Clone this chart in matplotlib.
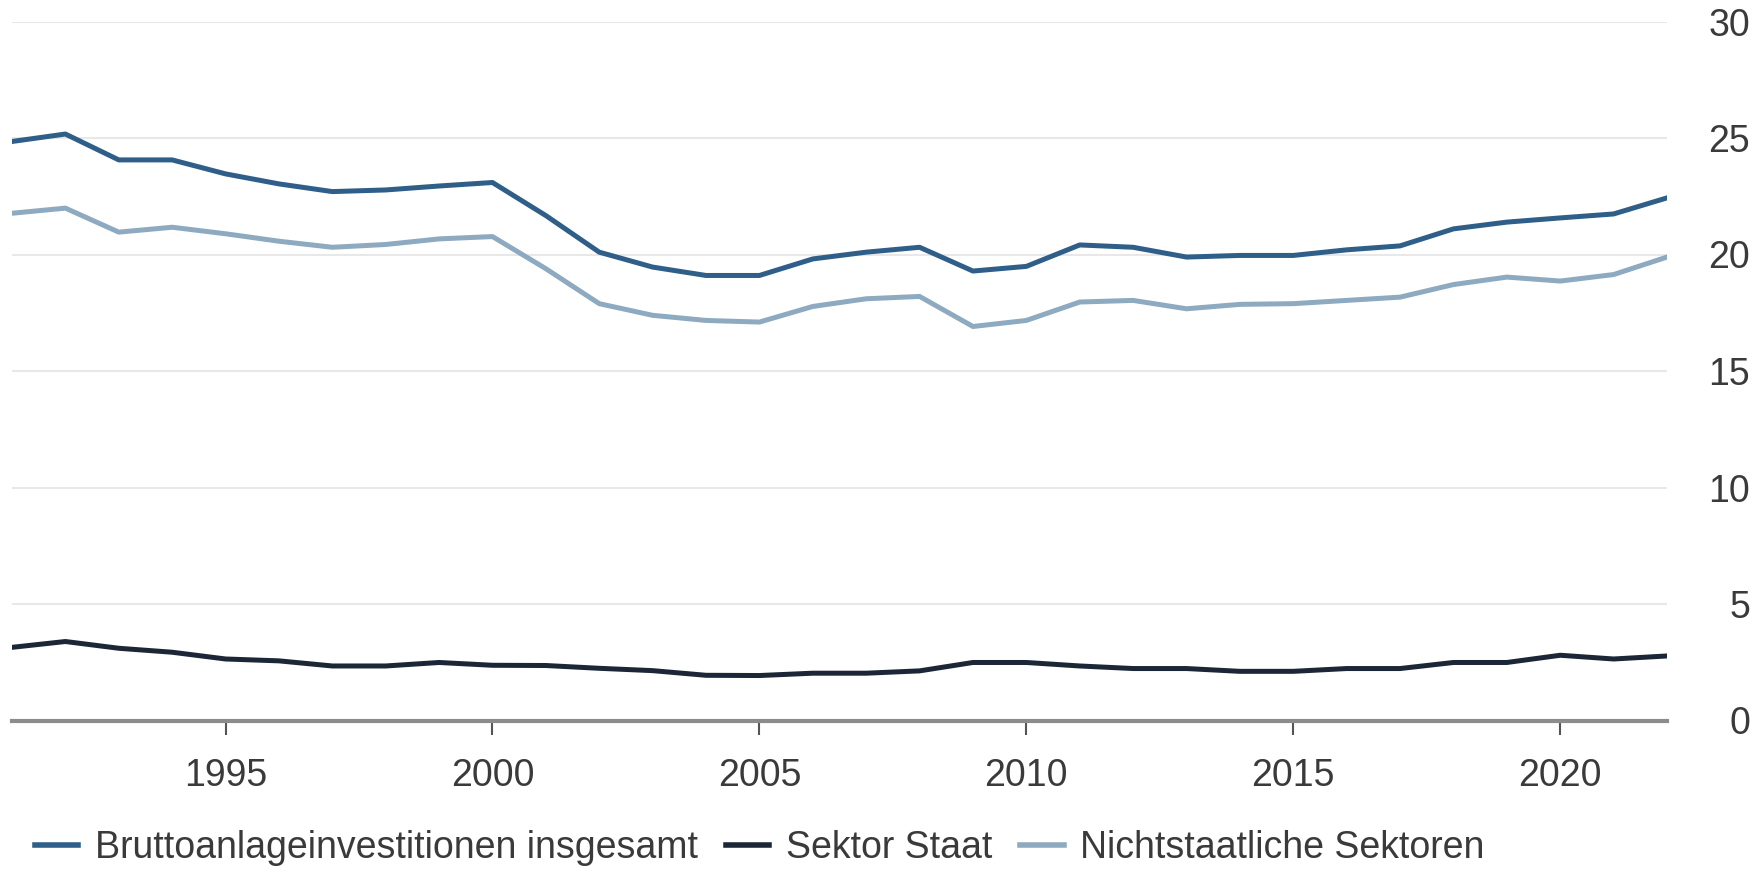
import matplotlib
matplotlib.use("Agg")
import matplotlib.pyplot as plt

# Anteil am BIP in %, 1991-2022
years = list(range(1991, 2023))

gesamt = [24.85, 25.17, 24.06, 24.06, 23.46, 23.03, 22.70, 22.77, 22.94, 23.09,
          21.67, 20.10, 19.46, 19.10, 19.10, 19.81, 20.10, 20.31, 19.29, 19.49,
          20.41, 20.31, 19.89, 19.96, 19.96, 20.20, 20.37, 21.10, 21.39, 21.57,
          21.74, 22.43]

staat = [3.14, 3.39, 3.10, 2.93, 2.64, 2.56, 2.34, 2.34, 2.49, 2.37,
         2.36, 2.24, 2.14, 1.94, 1.93, 2.03, 2.03, 2.13, 2.49, 2.49,
         2.34, 2.23, 2.23, 2.11, 2.11, 2.23, 2.23, 2.49, 2.49, 2.80,
         2.64, 2.77]

nichtstaatlich = [21.77, 21.99, 20.96, 21.17, 20.89, 20.57, 20.31, 20.43, 20.67, 20.77,
                  19.39, 17.89, 17.39, 17.17, 17.10, 17.77, 18.10, 18.20, 16.91, 17.17,
                  17.96, 18.03, 17.67, 17.86, 17.89, 18.03, 18.17, 18.71, 19.03, 18.86,
                  19.14, 19.89]

labels = ["Bruttoanlageinvestitionen insgesamt", "Sektor Staat", "Nichtstaatliche Sektoren"]
colors = ["#2f5e89", "#1b2736", "#8eaac0"]
yticks = [0, 5, 10, 15, 20, 25, 30]
xticks = [1995, 2000, 2005, 2010, 2015, 2020]

plt.rcParams['font.family'] = ['Liberation Sans', 'DejaVu Sans']
text_col = "#3a3a3a"

fig = plt.figure(figsize=(17.64, 8.74), dpi=100)
ax = fig.add_axes([12 / 1764, 1 - 720.5 / 874, (1667 - 12) / 1764, 699 / 874])

for y in yticks[1:]:
    ax.axhline(y, color="#e8e8e8", lw=1.5, zorder=0)

for vals, lab, col in zip([gesamt, staat, nichtstaatlich], labels, colors):
    ax.plot(years, vals, color=col, lw=3.6, label=lab, solid_joinstyle="round", zorder=3)

ax.set_xlim(1991, 2022)
ax.set_ylim(0, 30)

for s in ["top", "left", "right"]:
    ax.spines[s].set_visible(False)
ax.spines["bottom"].set_color("#8c8c8c")
ax.spines["bottom"].set_linewidth(3)

ax.set_xticks(xticks)
ax.set_xticklabels([str(x) for x in xticks])
ax.tick_params(axis="x", length=10, width=1.5, color="#555555", pad=17,
               labelsize=27, labelcolor=text_col)

ax.yaxis.tick_right()
ax.set_yticks(yticks)
ax.set_yticklabels([str(y) for y in yticks])
ax.tick_params(axis="y", length=0, pad=60, labelsize=27, labelcolor=text_col)
for t in ax.get_yticklabels():
    t.set_horizontalalignment("right")

leg = fig.legend(loc="lower left", bbox_to_anchor=(16 / 1764, -0.012), ncol=3, frameon=False,
                 fontsize=27, handlelength=1.15, handletextpad=0.45, columnspacing=0.75,
                 borderaxespad=0.1, labelcolor=text_col)
for h in leg.get_lines():
    h.set_linewidth(4)

fig.savefig("out.png", dpi=100, facecolor="white")
